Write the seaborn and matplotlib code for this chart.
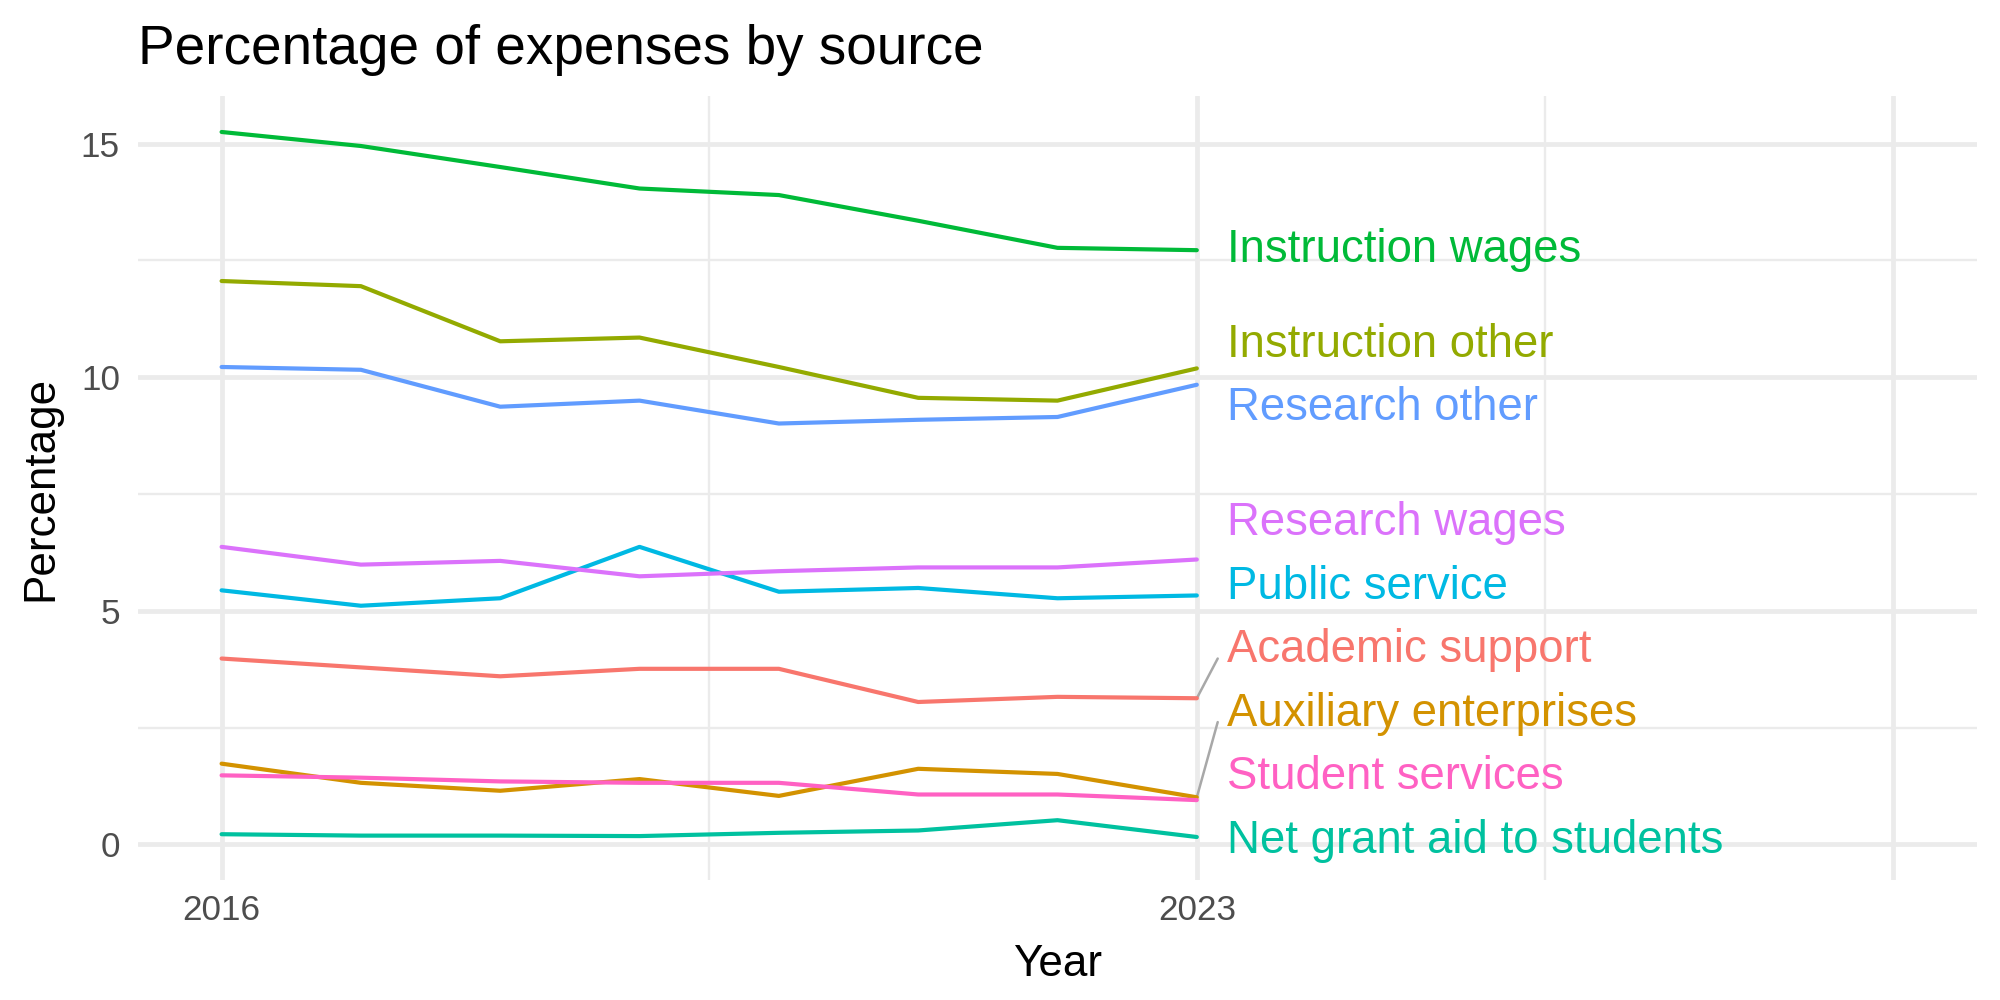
import matplotlib
matplotlib.use("Agg")
import matplotlib.pyplot as plt
import seaborn as sns
import numpy as np
import pandas as pd

# values (percent of expenses)
years = [2016, 2017, 2018, 2019, 2020, 2021, 2022, 2023]
academic_support = [3.98, 3.79, 3.60, 3.76, 3.76, 3.05, 3.16, 3.13]
auxiliary_enterprises = [1.73, 1.32, 1.15, 1.40, 1.04, 1.62, 1.51, 1.01]
instruction_other = [12.06, 11.95, 10.77, 10.85, 10.22, 9.56, 9.50, 10.19]
instruction_wages = [15.25, 14.95, 14.50, 14.04, 13.90, 13.35, 12.77, 12.72]
net_grant_aid = [0.22, 0.19, 0.19, 0.18, 0.25, 0.30, 0.52, 0.16]
public_service = [5.44, 5.11, 5.27, 6.37, 5.41, 5.49, 5.27, 5.33]
research_other = [10.22, 10.16, 9.37, 9.50, 9.01, 9.09, 9.15, 9.84]
research_wages = [6.37, 5.99, 6.07, 5.74, 5.85, 5.93, 5.93, 6.10]
student_services = [1.48, 1.43, 1.35, 1.32, 1.32, 1.07, 1.07, 0.95]

sources = ["Academic support", "Auxiliary enterprises", "Instruction other",
           "Instruction wages", "Net grant aid to students", "Public service",
           "Research other", "Research wages", "Student services"]
series = [academic_support, auxiliary_enterprises, instruction_other,
          instruction_wages, net_grant_aid, public_service,
          research_other, research_wages, student_services]
colors = ["#F8766D", "#D39200", "#93AA00", "#00BA38", "#00C19F",
          "#00B9E3", "#619CFF", "#DB72FB", "#FF61C3"]

df = pd.DataFrame({
    "Year": np.tile(years, len(sources)),
    "Percentage": np.concatenate(series),
    "Source": np.repeat(sources, len(years)),
})

sns.set_style("white")
plt.rcParams["font.family"] = ["Liberation Sans", "DejaVu Sans"]
plt.rcParams["text.color"] = "black"
plt.rcParams["axes.labelcolor"] = "black"

fig, ax = plt.subplots(figsize=(20, 10), dpi=100)
fig.subplots_adjust(left=0.069, right=0.9885, top=0.904, bottom=0.12)

sns.lineplot(data=df, x="Year", y="Percentage", hue="Source",
             palette=dict(zip(sources, colors)), linewidth=3,
             legend=False, ax=ax)

# simple repel of end labels: pool clusters so labels keep a min gap
gap = 1.36
floor = 0.08
last = [s[-1] for s in series]
order = np.argsort(last, kind="stable")
groups = [[i] for i in order]
changed = True
while changed:
    changed = False
    new_groups = [groups[0]]
    for g in groups[1:]:
        prev = new_groups[-1]
        pc = np.mean([last[i] for i in prev]) + gap * (len(prev) - 1) / 2
        gc = np.mean([last[i] for i in g]) - gap * (len(g) - 1) / 2
        if gc - pc < gap:
            new_groups[-1] = prev + g
            changed = True
        else:
            new_groups.append(g)
    groups = new_groups
label_y = {}
lowest = floor
for g in groups:
    c = np.mean([last[i] for i in g])
    start = max(c - gap * (len(g) - 1) / 2, lowest)
    for k, i in enumerate(g):
        label_y[i] = start + gap * k
    lowest = label_y[g[-1]] + gap

x_end = years[-1]
for i, name in enumerate(sources):
    ly = label_y[i]
    ax.text(x_end + 0.22, ly, name, color=colors[i], fontsize=32.8,
            ha="left", va="center")
    if abs(ly - last[i]) > 0.9:
        ax.plot([x_end, x_end + 0.15], [last[i], ly - 0.18],
                color="#A8A8A8", lw=1.8, zorder=1)

ax.set_xlim(2015.4, 2028.6)
ax.set_ylim(-0.76, 16.02)
ax.set_xticks([2016, 2023, 2028])
ax.set_xticklabels(["2016", "2023", ""])
ax.set_xticks([2019.5, 2025.5], minor=True)
ax.set_yticks([0, 5, 10, 15])
ax.set_yticks([2.5, 7.5, 12.5], minor=True)
ax.grid(which="major", color="#EBEBEB", linewidth=3.4)
ax.grid(which="minor", color="#EBEBEB", linewidth=1.7)
ax.set_axisbelow(True)
ax.tick_params(which="both", length=0)
ax.tick_params(axis="x", labelsize=25.3, labelcolor="#4D4D4D", pad=10)
ax.tick_params(axis="y", labelsize=25.3, labelcolor="#4D4D4D", pad=13)
for sp in ax.spines.values():
    sp.set_visible(False)

ax.set_xlabel("Year", fontsize=31.7, labelpad=12)
ax.set_ylabel("Percentage", fontsize=31.7, labelpad=14)
ax.set_title("Percentage of expenses by source", fontsize=39.5, loc="left",
             x=0.0, pad=23)

fig.savefig("out.png", dpi=100)
